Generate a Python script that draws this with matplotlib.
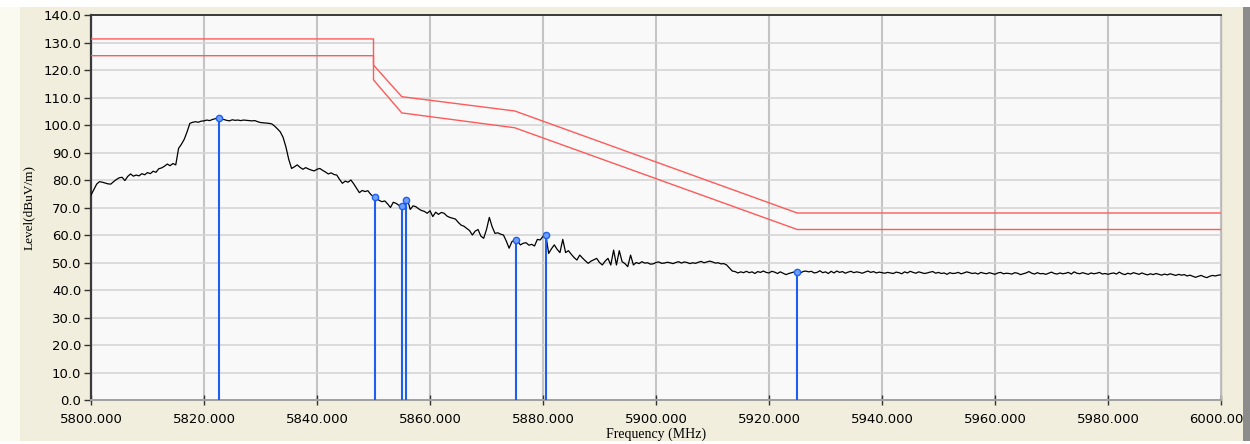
import matplotlib
matplotlib.use('Agg')
import matplotlib.pyplot as plt
import numpy as np
from matplotlib.patches import Rectangle

# sweep grid (MHz)
f_start = 5800.0
f_stop = 6000.0
f_step = 0.5

# measured trace (dBuV/m), one value per 0.5 MHz
level = [
    74.5, 76.5, 78.5, 79.4, 79.2, 78.9, 78.6, 78.5, 79.4, 80.2, 80.8, 81.0, 79.8, 81.3, 82.2, 81.4, 81.8, 81.5, 82.3, 81.9,
    82.7, 82.3, 83.2, 82.8, 84.1, 84.4, 85.0, 85.8, 85.2, 86.0, 85.5, 91.5, 93.0, 94.8, 97.5, 100.6, 101.0, 101.2, 101.0, 101.4,
    101.5, 101.8, 101.6, 102.0, 102.3, 102.6, 102.2, 102.0, 101.7, 101.5, 101.9, 101.7, 101.8, 101.6, 101.8, 101.7, 101.6, 101.5, 101.6, 101.2,
    100.9, 100.8, 100.7, 100.6, 100.4, 99.6, 98.6, 97.5, 95.5, 92.0, 87.5, 84.2, 84.8, 85.5, 84.6, 83.9, 84.5, 84.0, 83.6, 83.3,
    83.9, 84.2, 83.5, 82.9, 82.2, 82.6, 82.0, 81.8, 80.2, 78.8, 79.6, 79.2, 80.0, 78.6, 77.0, 75.4, 76.2, 75.8, 76.1, 74.8,
    73.9, 73.4, 72.6, 72.1, 72.4, 71.3, 70.0, 71.9, 71.5, 70.8, 70.4, 71.2, 73.0, 69.3, 70.6, 70.3, 69.5, 68.9, 68.6, 67.9,
    68.8, 66.7, 68.3, 67.5, 68.2, 67.9, 66.9, 66.4, 66.1, 65.8, 64.6, 63.6, 63.2, 62.4, 61.6, 60.0, 61.4, 62.0, 59.6, 58.8,
    62.0, 66.4, 63.0, 60.6, 60.8, 60.3, 60.0, 57.8, 55.2, 57.6, 58.2, 57.8, 56.4, 57.0, 57.2, 56.3, 56.6, 56.0, 58.4, 58.2,
    59.5, 60.1, 53.3, 55.0, 56.4, 54.8, 53.6, 58.4, 53.6, 54.3, 53.0, 51.8, 50.9, 52.7, 51.6, 50.6, 49.7, 50.5, 51.0, 51.5,
    50.0, 49.1, 50.5, 51.5, 49.1, 54.5, 49.1, 54.3, 50.3, 49.6, 48.5, 52.7, 49.1, 50.0, 49.6, 50.3, 49.8, 49.9, 49.4, 49.5,
    50.0, 50.2, 49.7, 49.8, 50.1, 49.9, 49.6, 50.0, 50.3, 49.8, 50.2, 50.0, 49.6, 49.9, 49.7, 50.1, 50.4, 49.9, 50.2, 50.5,
    50.2, 49.8, 49.9, 49.5, 49.6, 49.1, 48.0, 46.9, 46.7, 46.2, 46.6, 46.3, 46.8, 46.3, 46.6, 46.0, 46.7, 46.4, 46.9, 46.4,
    46.2, 46.8, 46.5, 46.0, 46.6, 46.1, 45.6, 46.0, 46.3, 46.6, 46.4, 46.1, 46.7, 46.9, 46.6, 46.8, 46.2, 46.4, 47.0, 46.3,
    46.6, 46.0, 46.8, 46.2, 46.9, 46.4, 46.7, 46.1, 46.5, 46.8, 46.3, 46.6, 46.4, 46.1, 46.5, 46.9, 46.4, 46.7, 46.2, 46.5,
    46.3, 46.1, 46.4, 46.2, 46.0, 46.5, 46.3, 45.9, 46.6, 46.2, 46.8, 46.4, 46.1, 46.6, 46.3, 46.0, 46.2, 46.5, 46.7, 46.1,
    46.4, 46.0, 46.2, 45.7, 46.3, 46.0, 46.1, 46.4, 45.9, 46.2, 46.6, 46.3, 46.0, 46.2, 45.8, 46.4, 46.1, 45.9, 46.3, 46.0,
    45.7, 46.2, 46.4, 45.9, 46.1, 46.0, 45.8, 46.3, 46.1, 45.6, 45.9, 46.2, 46.7, 46.1, 45.8, 46.3, 45.9, 46.0, 45.7, 46.1,
    46.5, 46.0, 45.8, 46.2, 45.9, 46.1, 46.4, 45.8, 46.6, 46.1, 45.9, 46.3, 46.0, 45.7, 46.2, 45.9, 46.1, 46.4, 45.8, 46.0,
    45.7, 46.0, 46.2, 45.8, 46.5, 45.9, 45.6, 46.1, 45.8, 46.3, 46.0, 45.7, 46.2, 45.8, 45.5, 45.9, 45.6, 46.0, 45.7, 45.4,
    45.8, 45.5, 45.9, 45.6, 45.3, 45.7, 45.4, 45.6, 45.1, 45.4, 45.0, 44.6, 45.0, 45.3, 44.8, 44.5, 45.0, 45.3, 45.1, 45.4,
    45.5,
]

# limit lines
limit_f = [5800, 5850, 5850, 5855, 5875, 5925, 6000]
limit_hi = [131.3, 131.3, 121.8, 110.3, 105.1, 68.0, 68.0]
limit_lo = [125.2, 125.2, 116.4, 104.4, 99.0, 62.0, 62.0]

# peak markers
peak_f = [5822.6, 5850.2, 5855.0, 5855.8, 5875.2, 5880.5, 5924.9]
peak_lvl = [102.6, 73.7, 70.6, 72.8, 58.2, 60.0, 46.6]

freq = np.arange(f_start, f_stop + f_step / 2, f_step)

fig = plt.figure(figsize=(12.5, 4.44), dpi=100, facecolor='#f2eedd')

# window decoration
fig.patches.append(Rectangle((0, 0.984), 1, 0.016, transform=fig.transFigure,
                             facecolor='white', edgecolor='none', zorder=0))
fig.patches.append(Rectangle((0, 0), 0.016, 0.984, transform=fig.transFigure,
                             facecolor='#fbfaf1', edgecolor='none', zorder=0))
fig.patches.append(Rectangle((0.9945, 0), 0.0055, 0.984, transform=fig.transFigure,
                             facecolor='#8c8c8c', edgecolor='none', zorder=0))
fig.patches.append(Rectangle((0, 0), 1, 0.007, transform=fig.transFigure,
                             facecolor='#ffffff', edgecolor='none', zorder=0))

ax = fig.add_axes([0.0728, 0.0991, 0.904, 0.8671])
ax.set_facecolor('#f9f9f9')

ax.plot(limit_f, limit_hi, color='#ff5a5a', lw=1.0, zorder=3)
ax.plot(limit_f, limit_lo, color='#ff5a5a', lw=1.0, zorder=3)
ax.plot(freq, level, color='black', lw=0.9, zorder=4)

ax.vlines(peak_f, 0, peak_lvl, color='#1f5ff0', lw=1.5, zorder=5)
ax.plot(peak_f, peak_lvl, 'o', ms=4.5, mfc='#6fa0ff', mec='#1f5ff0', mew=1.0, zorder=6)

ax.set_xlim(5800, 6000)
ax.set_ylim(0, 140)
ax.set_xticks(np.arange(5800, 6001, 20))
ax.set_yticks(np.arange(0, 141, 10))
ax.set_xticklabels([f'{v:.3f}' for v in np.arange(5800, 6001, 20)])
ax.set_yticklabels([f'{v:.1f}' for v in np.arange(0, 141, 10)])

ax.grid(axis='x', color='#c4c4c4', lw=1.5, zorder=1)
ax.grid(axis='y', color='#d6d6d6', lw=1.2, zorder=1)
ax.set_axisbelow(True)

ax.tick_params(axis='y', direction='out', length=5, width=1, color='#333333',
               labelsize=9.5, pad=2)
ax.tick_params(axis='x', direction='inout', length=7, width=1, color='#333333',
               labelsize=9.5, pad=6)

ax.spines['left'].set_color('#3a3a3a')
ax.spines['left'].set_linewidth(1.6)
ax.spines['top'].set_color('#3a3a3a')
ax.spines['top'].set_linewidth(1.4)
ax.spines['bottom'].set_color('#a0a0a0')
ax.spines['bottom'].set_linewidth(1.4)
ax.spines['right'].set_color('#b8b8b8')
ax.spines['right'].set_linewidth(1.0)

ax.set_xlabel('Frequency (MHz)', family='Liberation Serif', fontsize=10, labelpad=1)
ax.set_ylabel('Level(dBuV/m)', family='Liberation Serif', fontsize=9.5, labelpad=6)

fig.savefig('out.png', dpi=100, facecolor=fig.get_facecolor())
